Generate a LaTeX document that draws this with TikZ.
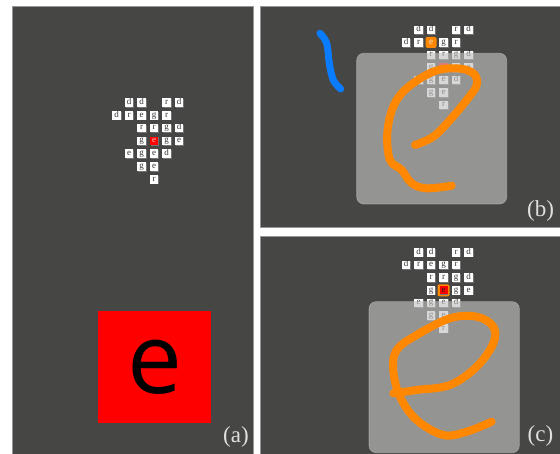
\documentclass[tikz,border=0pt]{standalone}
\usepackage{fontspec}
\setmainfont{Liberation Serif}
\newfontfamily\bigsans{Open Sans}
\usetikzlibrary{shadows}
\definecolor{panelbg}{RGB}{70,71,68}
\definecolor{panelline}{RGB}{150,150,150}
\definecolor{inkorange}{RGB}{255,136,0}
\definecolor{inkblue}{RGB}{10,124,255}
\definecolor{veil}{RGB}{193,193,193}
\tikzset{
  panel/.style={fill=panelbg, draw=panelline, line width=0.6pt},
  cell/.style={fill=white, minimum size=8.6pt, inner sep=0pt, text height=5pt, text depth=1.5pt,
    font=\fontsize{9}{9}\selectfont, text=black!80,
    general shadow={fill=black!55, shadow xshift=0.8pt, shadow yshift=-0.8pt}},
  redcell/.style={cell, fill=red, text=red!25!white},
  veilbox/.style={fill=veil, fill opacity=0.64, draw=white!75!black, draw opacity=0.6, line width=0.6pt, rounded corners=7pt},
  orangeink/.style={draw=inkorange, line width=8pt, line cap=round, line join=round},
  blueink/.style={draw=inkblue, line width=7pt, line cap=round, line join=round},
  tag/.style={font=\fontsize{23}{23}\selectfont, text=white!88!black, inner sep=0pt},
}
\newcommand{\lettergrid}[4]{%
  \foreach \c/\r/\l in {1/0/d,2/0/d,4/0/r,5/0/d,0/1/d,1/1/r,2/1/e,3/1/g,4/1/r,2/2/r,3/2/r,4/2/g,5/2/d,2/3/g,4/3/g,5/3/e,1/4/e,2/4/g,3/4/e,4/4/d,2/5/g,3/5/e,3/6/r}
    {\node[cell] (#4-\c-\r) at ({#1+\c*12.5}, {#2+\r*#3}) {\l};}
}
\begin{document}
\begin{tikzpicture}[x=1pt, y=-1pt]
\useasboundingbox (0,0) rectangle (560,454);
\fill[white] (0,0) rectangle (560,454);
% panels
\draw[panel] (12.7,6) rectangle (253.3,460);
\draw[panel] (260,6) rectangle (565,227);
\draw[panel] (260,236) rectangle (565,460);

% ---------- panel (a)
\lettergrid{116.5}{102.5}{12.8}{a}
\node[redcell] (a-3-3) at ({116.5+3*12.5}, {102.5+3*12.8}) {e};
\node[fill=red, minimum width=112.7pt, minimum height=112pt, inner sep=0pt] (redsq) at (154.6,366.8) {};
\node[font=\bigsans\fontsize{98}{98}\selectfont, text=black, inner sep=0pt] (bige) at (154.5,367.5) {e};
\node[tag] (la) at (236,437) {(a)};

% ---------- panel (b)
\lettergrid{406}{30}{12.5}{b}
\node[redcell] (b-3-3) at ({406+3*12.5}, {30+3*12.5}) {e};
\draw[veilbox] (356.7,53.3) rectangle (506.7,204);
\node[fill=inkorange, rounded corners=1.5pt, minimum size=11pt, inner sep=0pt, text height=5pt, text depth=1.5pt,
  font=\fontsize{9}{9}\selectfont, text=white!90!black] (bhl) at ({406+2*12.5}, 42.3) {e};
\draw[orangeink] plot[smooth, tension=0.6] coordinates {(415,145) (433.3,136.7) (450,120) (466.7,100) (476.7,85) (473.3,73.3) (456.7,68.3) (433.3,71.7) (406.7,88.3) (393.3,106.7) (387.3,133.3) (390,160) (401.7,170) (411.7,183.3) (426.7,188.3) (451.7,185.7)};
\draw[blueink] plot[smooth, tension=0.6] coordinates {(320,33.3) (326.7,43.3) (329.3,63.3) (333.3,80) (340.7,89)};
\node[tag] (lb) at (540.5,211) {(b)};

% ---------- panel (c)
\lettergrid{406}{252.3}{12.67}{c}
\node[fill=inkorange, rounded corners=2pt, minimum size=12pt, inner sep=0pt] (chl) at ({406+3*12.5}, {252.3+3*12.67}) {};
\node[redcell, general shadow={}, minimum size=8pt, text=black!85] (c-3-3) at (chl) {e};
\draw[veilbox] (369,301.7) rectangle (519.3,452.7);
\draw[orangeink] plot[smooth, tension=0.6] coordinates {(393.3,393.3) (416.7,390) (450,385) (476.7,366.7) (493.3,343.3) (493.3,326.7) (476.7,316.7) (450,318.3) (416.7,335) (396.7,350) (393.3,370) (400,396.7) (416.7,420) (443.3,435) (466.7,431.7) (491.7,421.7)};
\node[tag] (lc) at (540.5,436) {(c)};
\end{tikzpicture}
\end{document}
